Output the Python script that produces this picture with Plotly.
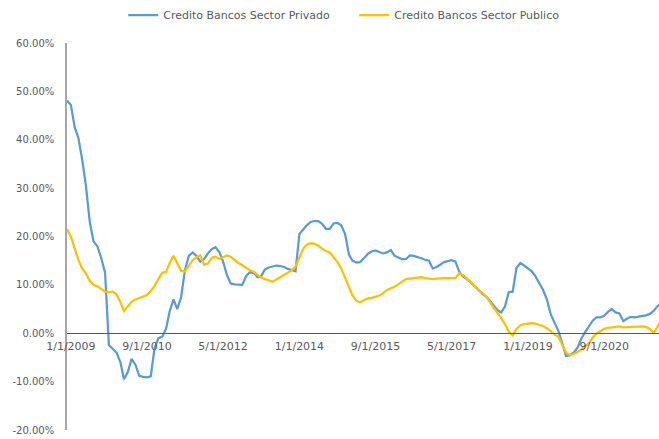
import pandas as pd
import plotly.graph_objects as go

# Year-over-year credit growth (%), monthly from December 2008
privado = [
    48.1, 47.2, 42.5, 40.5, 36.0, 30.5, 23.0, 19.0, 18.0, 15.5,
    12.5, -2.5, -3.2, -4.0, -6.0, -9.5, -8.0, -5.3, -6.5, -8.8,
    -9.0,
    -9.1, -8.9, -3.0, -1.0, -0.7, 1.0, 4.5, 7.0, 5.0, 7.5,
    13.0, 16.0, 16.7, 16.0, 14.8, 15.3, 16.5, 17.4, 17.8, 16.8,
    14.8, 12.0, 10.3, 10.1, 10.1, 10.0, 11.8, 12.6, 12.5, 11.6,
    11.8, 13.2, 13.6, 13.8, 14.0, 13.9, 13.7, 13.3, 13.0, 12.8,
    20.5, 21.5, 22.3, 23.0, 23.2,
    23.2, 22.6, 21.6, 21.6, 22.7, 22.8,
    22.3, 20.5, 16.2, 15.0, 14.6, 14.7, 15.5, 16.4, 16.9, 17.1,
    16.8, 16.5, 16.7, 17.2, 16.0, 15.6, 15.3, 15.3, 16.1, 16.0,
    15.8, 15.5, 15.2, 15.0, 13.4, 13.7, 14.2, 14.7, 14.9,
    15.1, 14.8,
    12.7, 11.7, 11.2, 10.5, 9.8, 9.0, 8.2, 7.6, 6.8, 5.7,
    4.8, 4.3, 5.5, 8.5, 8.6, 13.5, 14.5, 14.0, 13.4, 12.8,
    11.8, 10.5, 9.0, 7.0, 4.0, 2.2, 0.5, -2.0, -4.7, -4.6,
    -4.0, -3.0, -1.2, 0.2, 1.5, 2.6, 3.3, 3.3, 3.6, 4.4,
    5.0, 4.3, 4.1, 2.5, 3.0, 3.4, 3.3, 3.4,
    3.5, 3.7, 4.0, 4.6, 5.6, 6.3,
]
publico = [
    21.5, 20.0, 17.5, 15.2, 13.4, 12.4, 10.8, 10.0, 9.7, 9.2,
    8.6, 8.5, 8.6, 8.0, 6.4, 4.6, 5.6, 6.5, 7.0, 7.3,
    7.6,
    7.9, 8.7, 9.8, 11.2, 12.5, 12.7, 14.5, 16.0, 14.3, 12.9,
    12.8, 13.9, 15.1, 15.7, 16.1, 14.2, 14.4, 15.6, 15.8, 15.4,
    15.7, 16.1, 15.8, 15.1, 14.5, 14.1, 13.5, 13.0, 12.7, 12.0,
    11.5, 11.2, 11.0, 10.7, 11.1, 11.6, 12.0, 12.5, 13.0, 13.8,
    15.8, 17.5, 18.3, 18.6, 18.5,
    18.1, 17.5, 17.0, 16.7, 15.8, 14.7,
    13.4, 11.5, 9.4, 7.8, 6.7, 6.4, 6.8, 7.2, 7.3, 7.5,
    7.8, 8.3, 8.9, 9.3, 9.6, 10.1, 10.6, 11.2, 11.3, 11.4,
    11.5, 11.6, 11.4, 11.3, 11.2, 11.3, 11.4, 11.4, 11.4,
    11.4, 11.4,
    12.4, 12.0, 11.3, 10.6, 9.8, 8.9, 8.4, 7.6, 6.4, 5.3,
    4.3, 3.1, 1.9, 0.3, -0.4, 0.9, 1.6, 1.9, 2.0, 2.1,
    2.0, 1.8, 1.5, 1.0, 0.5, -0.3, -0.7, -2.3, -4.0, -4.5,
    -4.3, -3.9, -3.3, -2.8, -2.1, -0.9, -0.1, 0.4, 0.9, 1.1,
    1.2, 1.3, 1.4, 1.2, 1.2, 1.2, 1.3, 1.35,
    1.4, 1.3, 0.9, 0.1, 1.3, 2.8,
]
fechas = pd.date_range("2008-12-01", periods=len(privado), freq="MS")

tick_dates = ["2009-01-01", "2010-09-01", "2012-05-01", "2014-01-01",
              "2015-09-01", "2017-05-01", "2019-01-01", "2020-09-01"]
tick_labels = ["1/1/2009", "9/1/2010", "5/1/2012", "1/1/2014",
               "9/1/2015", "5/1/2017", "1/1/2019", "9/1/2020"]
y_ticks = [-20, -10, 0, 10, 20, 30, 40, 50, 60]
y_labels = [f"{v:.2f}%" for v in y_ticks]

FONT = "DejaVu Sans"
GREY = "#595959"

fig = go.Figure()
fig.add_trace(go.Scatter(
    x=fechas, y=privado, mode="lines", name="Credito Bancos Sector Privado",
    line=dict(color="#5B9BD5", width=2.25),
))
fig.add_trace(go.Scatter(
    x=fechas, y=publico, mode="lines", name="Credito Bancos Sector Publico",
    line=dict(color="#FFC000", width=2.25),
))

fig.update_layout(
    width=659, height=439,
    margin=dict(l=67, r=0, t=43, b=9),
    paper_bgcolor="white", plot_bgcolor="white",
    font=dict(family=FONT, size=11, color=GREY),
    showlegend=True,
    legend=dict(
        orientation="h", x=0.095, xanchor="left", y=1.072, yanchor="middle",
        font=dict(family=FONT, size=11, color=GREY),
        itemwidth=30, entrywidth=186, entrywidthmode="pixels",
        bgcolor="rgba(0,0,0,0)",
    ),
    xaxis=dict(
        type="date",
        range=["2008-12-01", "2021-11-13"],
        anchor="free", position=0.25,
        showline=True, linecolor="#595959", linewidth=1,
        showgrid=False, zeroline=False, ticks="",
        tickmode="array", tickvals=tick_dates, ticktext=tick_labels,
        ticklabelstandoff=3,
        tickfont=dict(family=FONT, size=11, color=GREY),
    ),
    yaxis=dict(
        range=[-20, 60],
        showline=True, linecolor="#A6A6A6", linewidth=1.5,
        showgrid=False, zeroline=False, ticks="",
        tickmode="array", tickvals=y_ticks, ticktext=y_labels,
        ticklabelstandoff=9,
        tickfont=dict(family=FONT, size=10, color=GREY),
    ),
)

fig.write_html("out.html")
